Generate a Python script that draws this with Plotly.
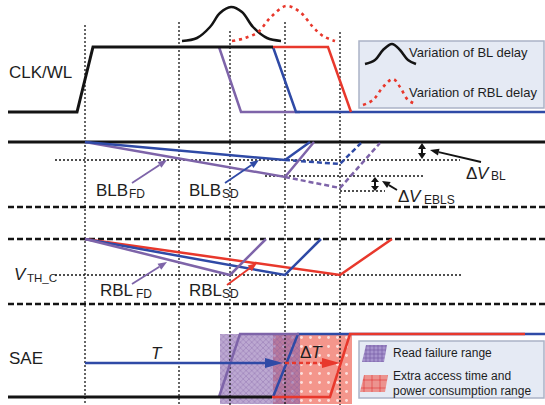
import math
import plotly.graph_objects as go

W, H = 545, 405
FONT = '"Liberation Sans", Arial, Helvetica, sans-serif'

BLACK = '#141414'
BLUE = '#2f4aa6'
PURPLE = '#7e64a9'
RED = '#e8382c'
TXT = '#1e1e1e'

# ---------------- data (timing diagram, drawn in pixel units) ----------------
# vertical dotted time guides
GUIDE_X = [85, 179, 230, 285, 340]
GUIDE_TOP = [25, 22, 31, 22, 32]

# horizontal reference lines
SOLID_REF_Y = [142]
DASHED_REF_Y = [207, 239, 304]
DOTTED_REF = [  # (y, x_start, x_end)
    (160, 55, 460),
    (176, 265, 423),
    (191, 340, 385),
    (275, 55, 462),
]

# CLK / WL
CLK_X = [8, 77, 93, 273]
CLK_Y = [112, 112, 47, 47]
WL_FD_X = [219, 241, 300]
WL_FD_Y = [47, 112, 112]
WL_SD_X = [273, 296, 545]
WL_SD_Y = [47, 112, 112]
WL_RBL_X = [273, 328, 351]
WL_RBL_Y = [47, 47, 112]

# delay distributions
BL_DELAY_X = [182, 197, 210, 220, 231, 242, 253, 267, 281]
BL_DELAY_Y = [41, 38, 27, 13, 7, 12, 27, 38, 41]
RBL_DELAY_X = [232, 245, 258, 270, 286, 300, 313, 323, 335]
RBL_DELAY_Y = [41, 38, 32, 18, 6, 12, 27, 36, 41]

# BLB
BLB_SD_X = [85, 285, 310]
BLB_SD_Y = [142, 160, 142]
BLB_SD_LATE_X = [285, 340, 361]
BLB_SD_LATE_Y = [160, 164, 143]
BLB_FD_X = [85, 285, 314]
BLB_FD_Y = [142, 177, 142]
BLB_FD_LATE_X = [285, 340, 380]
BLB_FD_LATE_Y = [177, 188, 143]

# RBL
RBL_FD_X = [85, 230, 266]
RBL_FD_Y = [239, 275, 239]
RBL_MID_X = [85, 285, 321]
RBL_MID_Y = [239, 275, 239]
RBL_SD_X = [85, 340, 392]
RBL_SD_Y = [239, 275, 239]

# SAE
SAE_LOW_X = [8, 272]
SAE_LOW_Y = [397, 397]
SAE_FD_X = [219, 240, 299]
SAE_FD_Y = [397, 334, 334]
SAE_MID_X = [273, 298, 545]
SAE_MID_Y = [397, 334, 334]
SAE_SD_X = [272, 330, 350, 525]
SAE_SD_Y = [397, 397, 334, 334]

# shaded ranges (x0, x1, y0, y1)
READ_FAIL = (220, 300, 334, 404)
EXTRA_TIME = (273, 352, 334, 404)

# legend boxes (x0, y0, x1, y1)
LEG_TOP = (359, 41, 544, 108)
LEG_BOT = (359, 341, 544, 398)
LEG_BL_X = [365, 375, 383, 392, 400, 408, 416]
LEG_BL_Y = [64, 60, 50, 44, 50, 60, 64]
LEG_RBL_X = [363, 373, 383, 393, 400, 408, 416]
LEG_RBL_Y = [105, 100, 87, 79, 87, 100, 104]
LEG_FAIL_X = [362, 366, 387, 384]
LEG_FAIL_Y = [362, 345, 345, 362]
LEG_EXTRA_X = [360, 364, 388, 385]
LEG_EXTRA_Y = [392, 375, 375, 392]

fig = go.Figure()


def line(xs, ys, color, width=2.5, dash='solid', shape='linear'):
    fig.add_trace(go.Scatter(x=xs, y=ys, mode='lines', hoverinfo='skip',
                             line=dict(color=color, width=width, dash=dash,
                                       shape=shape, smoothing=1.0)))


def poly(xs, ys, fillcolor, pattern=None, linecolor='rgba(0,0,0,0)'):
    xs = list(xs) + [xs[0]]
    ys = list(ys) + [ys[0]]
    kw = dict(x=xs, y=ys, mode='lines', fill='toself', fillcolor=fillcolor,
              line=dict(width=0.01, color=linecolor), hoverinfo='skip')
    if pattern:
        kw['fillpattern'] = pattern
    fig.add_trace(go.Scatter(**kw))


def arrow(x0, y0, x1, y1, color, width=1.8, hl=9, hw=7, dash='solid', both=False):
    dx, dy = x1 - x0, y1 - y0
    L = math.hypot(dx, dy)
    ux, uy = dx / L, dy / L
    px, py = -uy, ux
    bx, by = x1 - ux * hl, y1 - uy * hl
    sx, sy = x0, y0
    if both:
        sx, sy = x0 + ux * hl, y0 + uy * hl
    line([sx, bx], [sy, by], color, width, dash)
    poly([x1, bx + px * hw / 2, bx - px * hw / 2],
         [y1, by + py * hw / 2, by - py * hw / 2], color)
    if both:
        poly([x0, sx + px * hw / 2, sx - px * hw / 2],
             [y0, sy + py * hw / 2, sy - py * hw / 2], color)


annotations = []


def label(x, y, text, size=17, color=TXT):
    annotations.append(dict(x=x, y=y, xref='x', yref='y', text=text,
                            showarrow=False, xanchor='left', yanchor='middle',
                            borderpad=0,
                            font=dict(family=FONT, size=size, color=color)))


# ---------------- shaded ranges (below everything) ----------------
ex0, ex1, ey0, ey1 = EXTRA_TIME
poly([ex0, ex1, ex1, ex0], [ey0, ey0, ey1, ey1], 'rgba(236,80,64,0.6)',
     pattern=dict(shape='.', size=9, solidity=0.08, fgcolor='rgba(255,255,255,0.7)',
                  bgcolor='rgba(236,80,64,0.6)', fillmode='replace'))
rx0, rx1, ry0, ry1 = READ_FAIL
poly([rx0, rx1, rx1, rx0], [ry0, ry0, ry1, ry1], 'rgba(130,95,170,0.55)',
     pattern=dict(shape='x', size=4, solidity=0.3, fgcolor='rgba(120,85,160,0.5)',
                  bgcolor='rgba(132,96,170,0.55)', fillmode='replace'))

# ---------------- guides ----------------
for gx, gt in zip(GUIDE_X, GUIDE_TOP):
    line([gx, gx], [gt, H], BLACK, 1.3, '2px,2px')
for (yy, xa, xb) in DOTTED_REF:
    line([xa, xb], [yy, yy], BLACK, 1.3, '2px,2px')
for yy in SOLID_REF_Y:
    line([8, W], [yy, yy], BLACK, 3)
for yy in DASHED_REF_Y:
    line([8, W], [yy, yy], BLACK, 2.6, '6px,3px')

# ---------------- CLK/WL ----------------
line(BL_DELAY_X, BL_DELAY_Y, BLACK, 2.5, shape='spline')
line(RBL_DELAY_X, RBL_DELAY_Y, RED, 2.6, '3px,4px', shape='spline')
line(WL_FD_X, WL_FD_Y, PURPLE, 2.5)
line(WL_SD_X, WL_SD_Y, BLUE, 2.5)
line(WL_RBL_X, WL_RBL_Y, RED, 2.5)
line(CLK_X, CLK_Y, BLACK, 3)

# ---------------- BLB ----------------
line(BLB_FD_LATE_X, BLB_FD_LATE_Y, PURPLE, 2.5, '5px,3px')
line(BLB_SD_LATE_X, BLB_SD_LATE_Y, BLUE, 2.5, '5px,3px')
line(BLB_FD_X, BLB_FD_Y, PURPLE, 2.5)
line(BLB_SD_X, BLB_SD_Y, BLUE, 2.5)

# ---------------- RBL ----------------
line(RBL_SD_X, RBL_SD_Y, RED, 2.5)
line(RBL_MID_X, RBL_MID_Y, BLUE, 2.5)
line(RBL_FD_X, RBL_FD_Y, PURPLE, 2.5)

# ---------------- SAE ----------------
line(SAE_MID_X, SAE_MID_Y, BLUE, 2.5)
line(SAE_SD_X, SAE_SD_Y, RED, 2.5)
line(SAE_FD_X, SAE_FD_Y, PURPLE, 2.5)
line(SAE_LOW_X, SAE_LOW_Y, BLACK, 3)

# ---------------- arrows ----------------
arrow(132, 183, 167, 160, PURPLE)
arrow(225, 183, 259, 160, BLUE)
arrow(132, 284, 167, 262, PURPLE)
arrow(227, 285, 257, 263, RED)
arrow(481, 162, 430, 150, BLACK, 1.8, 9, 7)
arrow(397, 190, 382, 181, BLACK, 1.8, 8, 7)
arrow(422, 143, 422, 159, BLACK, 2, 6, 8, both=True)
arrow(375, 177, 375, 191, BLACK, 2, 5, 8, both=True)
arrow(85, 363, 283, 363, BLUE, 2.6, 18, 10)
arrow(285, 363, 340, 363, RED, 2.6, 18, 10, dash='4px,3px')

# ---------------- legend boxes ----------------
shapes = []
for (x0, y0, x1, y1) in (LEG_TOP, LEG_BOT):
    shapes.append(dict(type='rect', xref='x', yref='y', x0=x0, y0=y0, x1=x1, y1=y1,
                       fillcolor='#e5eaf4', line=dict(color='#aab3c6', width=1.5),
                       layer='below'))
line(LEG_BL_X, LEG_BL_Y, BLACK, 2.5, shape='spline')
line(LEG_RBL_X, LEG_RBL_Y, RED, 2.6, '3px,4px', shape='spline')
poly(LEG_FAIL_X, LEG_FAIL_Y, 'rgba(140,112,185,0.75)',
     pattern=dict(shape='+', size=4, solidity=0.3, fgcolor='rgba(100,70,150,0.8)',
                  bgcolor='rgba(150,125,195,0.8)', fillmode='replace'))
poly(LEG_EXTRA_X, LEG_EXTRA_Y, 'rgba(236,80,64,0.6)',
     pattern=dict(shape='+', size=8, solidity=0.15, fgcolor='rgba(220,40,40,0.9)',
                  bgcolor='rgba(240,110,100,0.7)', fillmode='replace'))

# ---------------- text ----------------
label(8, 72, 'CLK/WL')
label(95, 190, 'BLB')
label(128, 194, 'FD', 12)
label(188, 190, 'BLB')
label(221, 194, 'SD', 12)
label(465, 173, 'Δ')
label(476, 173, '<i>V</i>')
label(490, 176, 'BL', 12)
label(397, 196, 'Δ')
label(408, 196, '<i>V</i>')
label(423, 200, 'EBLS', 12)
label(13, 274, '<i>V</i>')
label(26, 278, 'TH_C', 11.5)
label(99, 290, 'RBL')
label(135, 294, 'FD', 12)
label(188, 290, 'RBL')
label(221, 294, 'SD', 12)
label(8, 358, 'SAE')
label(150, 353, '<i>T</i>')
label(299, 352, 'Δ<i>T</i>')
label(408, 52, 'Variation of BL delay', 13)
label(408, 92, 'Variation of RBL delay', 13)
label(392, 353, 'Read failure range', 12)
label(392, 376, 'Extra access time and', 12)
label(392, 391, 'power consumption range', 12)

fig.update_layout(
    width=W, height=H, margin=dict(l=0, r=0, t=0, b=0),
    paper_bgcolor='white', plot_bgcolor='white', showlegend=False,
    xaxis=dict(range=[0, W], visible=False, fixedrange=True),
    yaxis=dict(range=[H, 0], visible=False, fixedrange=True),
    shapes=shapes, annotations=annotations, hovermode=False,
)

fig.write_html("out.html", config={'displayModeBar': False, 'staticPlot': True},
               post_script="document.body.style.margin='0';document.body.style.overflow='hidden';")
